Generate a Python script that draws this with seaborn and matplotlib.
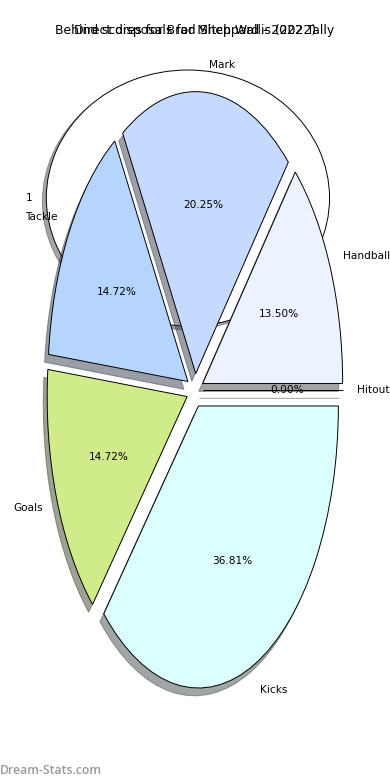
import seaborn as sns
import matplotlib.pyplot as plt

sns.set_style("white")
plt.rcParams['font.family'] = ['DejaVu Sans']
plt.rcParams['text.color'] = 'black'

# background chart (behind scores)
behind_labels = ["1"]
behind_values = [1]

# foreground chart (direct disposals)
labels = ["Handball", "Mark", "Tackle", "Goals", "Kicks", "Hitout"]
values = [22, 33, 24, 24, 60, 0]
colors = ["#ecf2ff", "#c6d9ff", "#b5d5ff", "#d0ec8a", "#dbffff", "#d0d0d0"]

title_behind = "Behind scores for Brad Sheppard - 2022 Tally"
title_direct = "Direct disposals for Mitch Wallis (2022)"

fig = plt.figure(figsize=(3.9, 7.8), dpi=100)

ax0 = fig.add_axes([18 / 390, 422 / 780, 354 / 390, 320 / 780])
ax0.pie(behind_values, labels=behind_labels, colors=["white"], explode=[0.05],
        shadow=True, startangle=0,
        wedgeprops={'edgecolor': 'black', 'linewidth': 0.7},
        textprops={'fontsize': 7.6, 'color': 'black'})
ax0.set_aspect('auto')

ax = fig.add_axes([20 / 390, 37 / 780, 350 / 390, 705 / 780])
pal = sns.color_palette(colors)
ax.pie(values, labels=labels, colors=pal, explode=[0.06] * len(values),
       shadow=True, startangle=0, autopct="%.2f%%",
       wedgeprops={'edgecolor': 'black', 'linewidth': 0.7},
       textprops={'fontsize': 7.6, 'color': 'black'})
ax.set_aspect('auto')

fig.text(0.5, 0.961, title_behind, ha="center", va="center", fontsize=8.9)
fig.text(0.5, 0.961, title_direct, ha="center", va="center", fontsize=8.9)
fig.text(0.0, 0.012, "Dream-Stats.com", ha="left", va="center",
         fontsize=8.8, color="#999999", fontweight="semibold",
         family=["Open Sans", "DejaVu Sans"])

fig.savefig("out.png", dpi=100)
